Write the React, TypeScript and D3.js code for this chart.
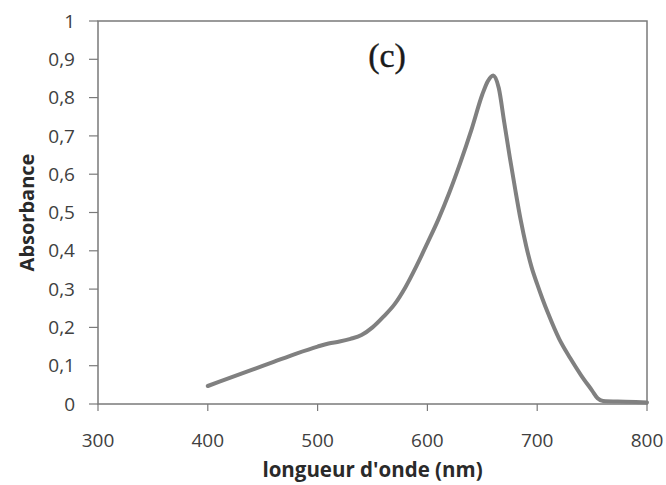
import React from "react";
import * as d3 from "d3";

const wavelengths = [400, 420, 440, 460, 480, 500, 510, 520, 530, 540, 550, 560, 570, 580, 590, 600, 610, 620, 630, 640, 650, 655, 660, 665, 670, 675, 680, 685, 690, 695, 700, 705, 710, 720, 730, 740, 750, 755, 760, 780, 800];
const absorbance = [0.047, 0.068, 0.089, 0.110, 0.131, 0.150, 0.158, 0.163, 0.170, 0.180, 0.200, 0.228, 0.260, 0.305, 0.360, 0.420, 0.482, 0.552, 0.630, 0.715, 0.808, 0.843, 0.858, 0.825, 0.735, 0.645, 0.560, 0.480, 0.412, 0.356, 0.313, 0.273, 0.236, 0.170, 0.120, 0.075, 0.035, 0.015, 0.008, 0.006, 0.004];
const xTicks = [300, 400, 500, 600, 700, 800];
const yTicks = [0, 0.1, 0.2, 0.3, 0.4, 0.5, 0.6, 0.7, 0.8, 0.9, 1];
const xTitle = "longueur d'onde (nm)";
const yTitle = "Absorbance";
const panelLabel = "(c)";

const W = 666, H = 485;
const M = { left: 98, right: 19, top: 21, bottom: 81 };

export default function App() {
  const x = d3.scaleLinear().domain([300, 800]).range([M.left, W - M.right]);
  const y = d3.scaleLinear().domain([0, 1]).range([H - M.bottom, M.top]);
  const data = wavelengths.map((w, i) => [w, absorbance[i]] as [number, number]);
  const line = d3.line<[number, number]>().x(d => x(d[0])).y(d => y(d[1])).curve(d3.curveMonotoneX);
  const fmt = (v: number) => (v === 0 || v === 1 ? String(v) : v.toFixed(1).replace(".", ","));
  const font = "Open Sans, Lato, sans-serif";
  const textCol = "#404040";
  const axisCol = "#7a7a7a";
  return (
    <svg width={W} height={H} style={{ position: "absolute", left: 0, top: 0, background: "#fff" }}>
      <rect x={M.left} y={M.top} width={W - M.left - M.right} height={H - M.top - M.bottom} fill="none" stroke={axisCol} strokeWidth={1.5} />
      {yTicks.map(t => (
        <g key={"y" + t}>
          <line x1={M.left - 9} x2={M.left} y1={y(t)} y2={y(t)} stroke={axisCol} strokeWidth={1.2} />
          <text x={M.left - 23} y={y(t)} dy="0.35em" textAnchor="end" fontFamily={font} fontSize={19} fill={textCol}>{fmt(t)}</text>
        </g>
      ))}
      {xTicks.map(t => (
        <g key={"x" + t}>
          <line x1={x(t)} x2={x(t)} y1={y(0)} y2={y(0) + 7} stroke={axisCol} strokeWidth={1.2} />
          <text x={x(t)} y={447} textAnchor="middle" fontFamily={font} fontSize={19} fill={textCol}>{t}</text>
        </g>
      ))}
      <path d={line(data) || ""} fill="none" stroke="#808080" strokeWidth={4} strokeLinejoin="round" strokeLinecap="round" />
      <text x={(M.left + W - M.right) / 2} y={477} textAnchor="middle" fontFamily={font} fontWeight="bold" fontSize={20.5} fill="#2a2a2a">{xTitle}</text>
      <text transform={`translate(34,${(M.top + H - M.bottom) / 2}) rotate(-90)`} textAnchor="middle" fontFamily={font} fontWeight="bold" fontSize={20} fill="#2a2a2a">{yTitle}</text>
      <text x={387} y={67} textAnchor="middle" fontFamily="Liberation Serif, DejaVu Serif, serif" fontSize={34} fill="#1a1a1a" stroke="#1a1a1a" strokeWidth={0.4}>{panelLabel}</text>
    </svg>
  );
}
